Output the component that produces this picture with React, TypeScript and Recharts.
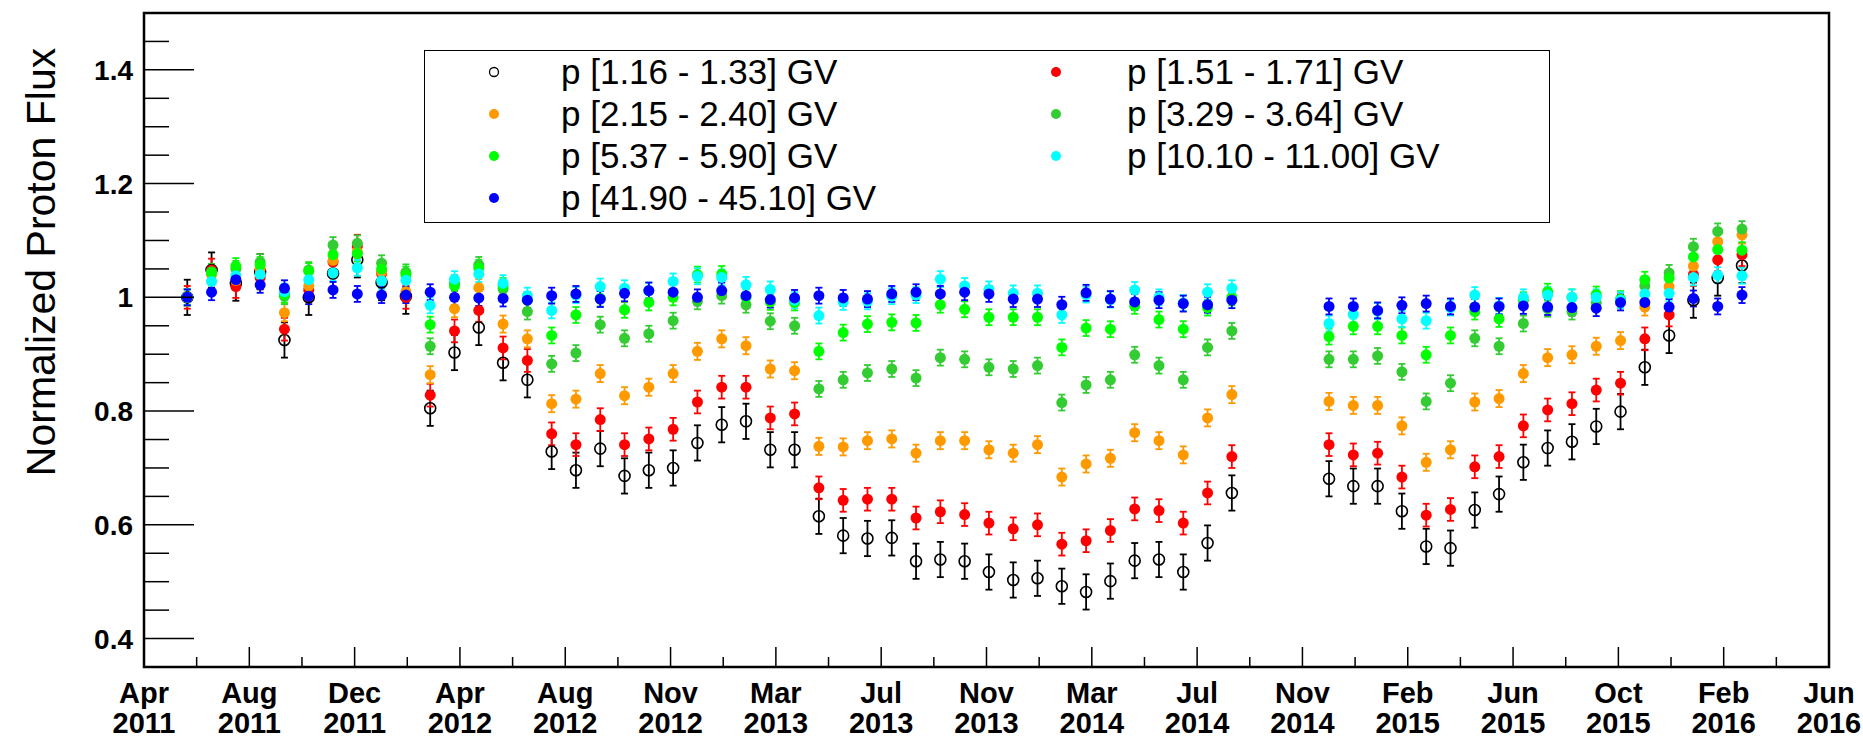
import React from 'react';
import { ScatterChart, Scatter, XAxis, YAxis, ErrorBar, ReferenceArea, Label } from 'recharts';

const WIDTH = 1863;
const HEIGHT = 744;

// Bartels rotations (27 days each); 2470–2472 have no measurement
const bartelsRotation = [
  2426, 2427, 2428, 2429, 2430, 2431, 2432, 2433, 2434, 2435, 2436, 2437, 2438, 2439, 2440,
  2441, 2442, 2443, 2444, 2445, 2446, 2447, 2448, 2449, 2450, 2451, 2452, 2453, 2454, 2455,
  2456, 2457, 2458, 2459, 2460, 2461, 2462, 2463, 2464, 2465, 2466, 2467, 2468, 2469,
  2473, 2474, 2475, 2476, 2477, 2478, 2479, 2480, 2481, 2482, 2483, 2484, 2485, 2486, 2487,
  2488, 2489, 2490,
];

// Time axis: 16 divisions, days from the axis origin
const TICK_DAYS = 117.05;
const FIRST_ROTATION_DAY = 48.1;
const ROTATION_DAYS = 27;
const monthLabels = ['Apr', 'Aug', 'Dec', 'Apr', 'Aug', 'Nov', 'Mar', 'Jul', 'Nov', 'Mar', 'Jul', 'Nov', 'Feb', 'Jun', 'Oct', 'Feb', 'Jun'];
const yearLabels = ['2011', '2011', '2011', '2012', '2012', '2012', '2013', '2013', '2013', '2014', '2014', '2014', '2015', '2015', '2015', '2016', '2016'];

const Y_MIN = 0.35;
const Y_MAX = 1.5;

// Normalized flux per rotation, one list per rigidity bin
const flux_1_16 = [
  1.0, 1.048, 1.025, 1.045, 0.925, 1.0, 1.042, 1.066, 1.026, 1.002, 0.805, 0.903, 0.947, 0.885, 0.855,
  0.729, 0.696, 0.734, 0.686, 0.696, 0.7, 0.744, 0.776, 0.782, 0.732, 0.732, 0.615, 0.581, 0.576, 0.577,
  0.536, 0.539, 0.536, 0.517, 0.503, 0.506, 0.492, 0.482, 0.501, 0.537, 0.539, 0.517, 0.568, 0.656,
  0.681, 0.668, 0.668, 0.624, 0.562, 0.559, 0.626, 0.654, 0.71, 0.735, 0.746, 0.773, 0.799, 0.877, 0.933,
  0.995, 1.034, 1.056,
];
const flux_1_51 = [
  1.0, 1.048, 1.019, 1.035, 0.944, 1.013, 1.062, 1.09, 1.042, 1.0, 0.828, 0.941, 0.977, 0.911, 0.889,
  0.76, 0.741, 0.785, 0.741, 0.751, 0.768, 0.816, 0.842, 0.842, 0.788, 0.795, 0.665, 0.643, 0.645, 0.645,
  0.612, 0.623, 0.618, 0.603, 0.593, 0.6, 0.566, 0.572, 0.59, 0.628, 0.625, 0.603, 0.656, 0.72,
  0.741, 0.723, 0.726, 0.684, 0.617, 0.627, 0.702, 0.72, 0.774, 0.802, 0.813, 0.837, 0.849, 0.927, 0.969,
  1.04, 1.066, 1.075,
];
const flux_2_15 = [
  1.0, 1.04, 1.03, 1.05, 0.973, 1.02, 1.065, 1.08, 1.045, 1.01, 0.864, 0.98, 1.017, 0.953, 0.927,
  0.813, 0.821, 0.866, 0.827, 0.842, 0.866, 0.905, 0.927, 0.915, 0.874, 0.871, 0.738, 0.737, 0.748, 0.751,
  0.726, 0.748, 0.748, 0.732, 0.726, 0.741, 0.684, 0.707, 0.717, 0.762, 0.748, 0.723, 0.788, 0.829,
  0.817, 0.81, 0.81, 0.774, 0.71, 0.732, 0.816, 0.822, 0.866, 0.894, 0.899, 0.914, 0.924, 0.983, 1.019,
  1.055, 1.098, 1.11,
];
const flux_3_29 = [
  1.0, 1.045, 1.05, 1.062, 1.002, 1.048, 1.092, 1.095, 1.06, 1.044, 0.914, 1.025, 1.057, 1.015, 0.975,
  0.883, 0.902, 0.952, 0.928, 0.936, 0.959, 0.993, 1.003, 0.987, 0.958, 0.95, 0.839, 0.855, 0.867, 0.874,
  0.858, 0.894, 0.891, 0.877, 0.874, 0.88, 0.815, 0.846, 0.855, 0.899, 0.88, 0.855, 0.912, 0.941,
  0.891, 0.891, 0.897, 0.869, 0.817, 0.849, 0.928, 0.914, 0.954, 0.98, 0.975, 0.99, 0.996, 1.02, 1.043,
  1.089, 1.116, 1.12,
];
const flux_5_37 = [
  1.0, 1.043, 1.055, 1.057, 1.005, 1.046, 1.075, 1.077, 1.05, 1.04, 0.952, 1.02, 1.052, 1.02, 0.995,
  0.933, 0.969, 0.998, 0.978, 0.991, 1.0, 1.04, 1.041, 1.0, 0.992, 0.991, 0.905, 0.938, 0.953, 0.956,
  0.955, 0.987, 0.979, 0.965, 0.965, 0.965, 0.912, 0.946, 0.944, 0.985, 0.961, 0.944, 0.982, 1.0,
  0.931, 0.949, 0.949, 0.933, 0.899, 0.933, 0.975, 0.962, 0.995, 1.01, 1.0, 1.005, 0.997, 1.031, 1.034,
  1.071, 1.084, 1.083,
];
const flux_10_10 = [
  1.0, 1.028, 1.038, 1.04, 1.01, 1.031, 1.043, 1.052, 1.029, 1.03, 0.986, 1.032, 1.041, 1.025, 1.003,
  0.977, 1.004, 1.019, 1.016, 1.012, 1.028, 1.037, 1.035, 1.022, 1.014, 0.995, 0.968, 0.992, 0.993, 1.002,
  1.004, 1.032, 1.02, 1.014, 1.007, 1.007, 0.969, 1.005, 0.996, 1.013, 1.0, 0.99, 1.009, 1.016,
  0.954, 0.97, 0.976, 0.962, 0.959, 0.982, 1.004, 0.985, 1.0, 1.004, 1.0, 1.0, 0.995, 1.006, 1.007,
  1.035, 1.039, 1.038,
];
const flux_41_90 = [
  1.0, 1.009, 1.031, 1.022, 1.016, 1.002, 1.013, 1.006, 1.004, 1.004, 1.009, 1.0, 0.999, 0.998, 0.995,
  1.003, 1.006, 0.997, 1.007, 1.012, 1.009, 1.0, 1.012, 1.003, 0.996, 0.999, 1.003, 0.999, 0.997, 1.006,
  1.009, 1.006, 1.009, 1.006, 0.997, 0.997, 0.987, 1.008, 0.997, 0.992, 0.995, 0.989, 0.987, 0.995,
  0.984, 0.984, 0.977, 0.986, 0.989, 0.984, 0.983, 0.984, 0.985, 0.983, 0.982, 0.981, 0.991, 0.991, 0.983,
  0.998, 0.984, 1.004,
];

// Typical statistical + systematic uncertainty of each bin
const fluxError = [0.031, 0.02, 0.015, 0.014, 0.014, 0.014, 0.014];

const seriesNames = [
  'p [1.16 - 1.33] GV',
  'p [1.51 - 1.71] GV',
  'p [2.15 - 2.40] GV',
  'p [3.29 - 3.64] GV',
  'p [5.37 - 5.90] GV',
  'p [10.10 - 11.00] GV',
  'p [41.90 - 45.10] GV',
];
const seriesColors = ['#000000', '#ff0000', '#ff9900', '#33cc33', '#00ff00', '#00ffff', '#0000ff'];
const seriesValues = [flux_1_16, flux_1_51, flux_2_15, flux_3_29, flux_5_37, flux_10_10, flux_41_90];

const rotationDay = (r: number) => FIRST_ROTATION_DAY + (r - bartelsRotation[0]) * ROTATION_DAYS;

const seriesData = seriesValues.map((vals, s) =>
  vals.map((v, i) => ({ x: rotationDay(bartelsRotation[i]), y: v, err: fluxError[s] })),
);

const X_MAX = 16 * TICK_DAYS;
const xTicks = Array.from({ length: 33 }, (_, k) => (k * TICK_DAYS) / 2);
const yTicks = Array.from({ length: 24 }, (_, k) => (35 + 5 * k) / 100);

const FONT = '"Liberation Sans", Arial, Helvetica, sans-serif';

const XTick = (props: any) => {
  const { x, y, payload } = props;
  const k = Math.round((payload.value / TICK_DAYS) * 2);
  const major = k % 2 === 0;
  const idx = k / 2;
  return (
    <g>
      <line x1={x} x2={x} y1={y} y2={y - (major ? 20 : 10)} stroke="#000" strokeWidth={1.5} />
      {major && (
        <text x={x} y={y + 36} textAnchor="middle" fontFamily={FONT} fontWeight="bold" fontSize={29} fill="#000">
          {monthLabels[idx]}
        </text>
      )}
      {major && (
        <text x={x} y={y + 66} textAnchor="middle" fontFamily={FONT} fontWeight="bold" fontSize={29} fill="#000">
          {yearLabels[idx]}
        </text>
      )}
    </g>
  );
};

const YTick = (props: any) => {
  const { x, y, payload } = props;
  const v = payload.value as number;
  const major = Math.abs(v * 5 - Math.round(v * 5)) < 1e-6;
  return (
    <g>
      <line x1={x} x2={x + (major ? 50 : 25)} y1={y} y2={y} stroke="#000" strokeWidth={1.5} />
      {major && (
        <text x={x - 11} y={y} dy="0.36em" textAnchor="end" fontFamily={FONT} fontWeight="bold" fontSize={28} fill="#000">
          {Math.abs(v - 1) < 1e-9 ? '1' : v.toFixed(1)}
        </text>
      )}
    </g>
  );
};

const makeMarker = (s: number) => (props: any) => {
  const { cx, cy } = props;
  if (s === 0) {
    return <circle cx={cx} cy={cy} r={5.5} fill="none" stroke="#000" strokeWidth={1.6} />;
  }
  return <circle cx={cx} cy={cy} r={5.5} fill={seriesColors[s]} />;
};

const LegendMarker = ({ s }: { s: number }) => (
  <svg width={14} height={14} style={{ display: 'block' }}>
    {s === 0 ? (
      <circle cx={7} cy={7} r={4.5} fill="none" stroke="#000" strokeWidth={1.3} />
    ) : (
      <circle cx={7} cy={7} r={5} fill={seriesColors[s]} />
    )}
  </svg>
);

// Two-column legend: marker and text offsets inside the box
const legendColumns = [
  { marker: 69, text: 136 },
  { marker: 631, text: 702 },
];
const legendLayout = [
  { col: 0, row: 0 },
  { col: 1, row: 0 },
  { col: 0, row: 1 },
  { col: 1, row: 1 },
  { col: 0, row: 2 },
  { col: 1, row: 2 },
  { col: 0, row: 3 },
];

export default function App() {
  return (
    <div style={{ position: 'absolute', left: 0, top: 0, width: WIDTH, height: HEIGHT, background: '#fff' }}>
      <ScatterChart width={WIDTH} height={HEIGHT} margin={{ top: 13, right: 34, bottom: 0, left: 0 }}>
        <XAxis
          type="number"
          dataKey="x"
          domain={[0, X_MAX]}
          ticks={xTicks}
          interval={0}
          tick={<XTick />}
          tickLine={false}
          axisLine={false}
          tickSize={0}
          tickMargin={0}
          height={77}
          allowDataOverflow
        />
        <YAxis
          type="number"
          dataKey="y"
          domain={[Y_MIN, Y_MAX]}
          ticks={yTicks}
          interval={0}
          tick={<YTick />}
          tickLine={false}
          axisLine={false}
          tickSize={0}
          tickMargin={0}
          width={144}
          allowDataOverflow
        >
          <Label
            content={() => (
              <text
                x={40}
                y={262}
                transform="rotate(-90 40 262)"
                textAnchor="middle"
                dy="0.36em"
                fontFamily={FONT}
                fontSize={41}
                fill="#000"
              >
                Normalized Proton Flux
              </text>
            )}
          />
        </YAxis>
        <ReferenceArea x1={0} x2={X_MAX} y1={Y_MIN} y2={Y_MAX} fill="none" stroke="#000" strokeWidth={2.5} ifOverflow="visible" />
        {seriesData.map((data, s) => (
          <Scatter
            key={seriesNames[s]}
            name={seriesNames[s]}
            data={data}
            fill={seriesColors[s]}
            shape={makeMarker(s)}
            isAnimationActive={false}
          >
            <ErrorBar dataKey="err" direction="y" width={3.5} stroke={seriesColors[s]} strokeWidth={1.8} isAnimationActive={false} />
          </Scatter>
        ))}
      </ScatterChart>
      <div
        style={{
          position: 'absolute',
          left: 424,
          top: 50,
          width: 1126,
          height: 173,
          border: '1.5px solid #000',
          boxSizing: 'border-box',
          background: '#fff',
        }}
      >
        {seriesNames.map((name, s) => {
          const { col, row } = legendLayout[s];
          const cy = 21 + row * 42;
          return (
            <React.Fragment key={name}>
              <div style={{ position: 'absolute', left: legendColumns[col].marker - 7, top: cy - 7 }}>
                <LegendMarker s={s} />
              </div>
              <div
                style={{
                  position: 'absolute',
                  left: legendColumns[col].text,
                  top: cy - 20,
                  height: 40,
                  lineHeight: '40px',
                  fontFamily: FONT,
                  fontSize: 35,
                  color: '#000',
                  whiteSpace: 'nowrap',
                }}
              >
                {name}
              </div>
            </React.Fragment>
          );
        })}
      </div>
    </div>
  );
}
